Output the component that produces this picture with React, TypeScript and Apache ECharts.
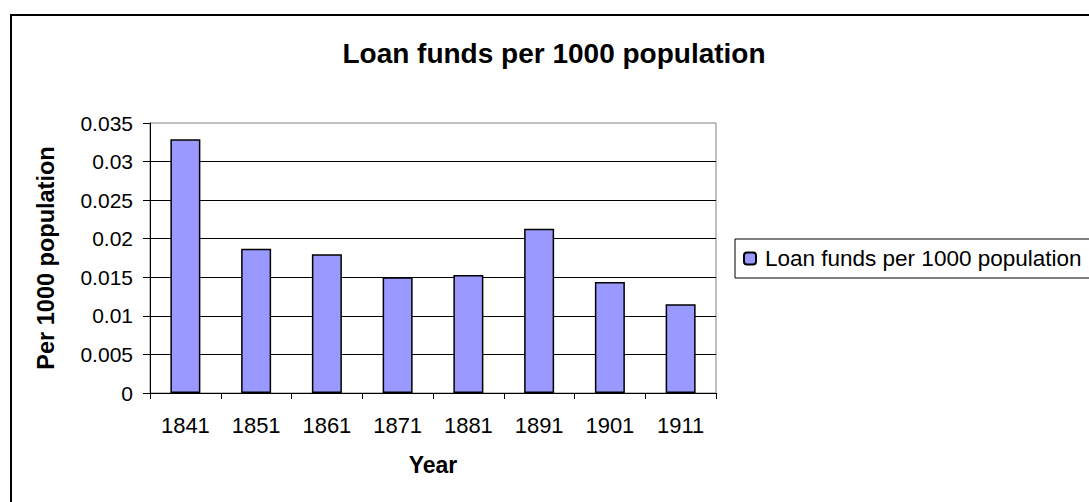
import React, { useEffect, useRef } from "react";
import * as echarts from "echarts";

const categories = ["1841", "1851", "1861", "1871", "1881", "1891", "1901", "1911"];
const values = [0.0329, 0.0187, 0.018, 0.015, 0.0153, 0.0213, 0.0144, 0.0115];
const seriesName = "Loan funds per 1000 population";
const titleText = "Loan funds per 1000 population";
const yAxisName = "Per 1000 population";
const xAxisName = "Year";

const FONT = "'Liberation Sans', Arial, sans-serif";

export default function App() {
  const ref = useRef<HTMLDivElement>(null);
  useEffect(() => {
    if (!ref.current) return;
    const chart = echarts.init(ref.current, null, { renderer: "svg" });
    chart.setOption({
      animation: false,
      backgroundColor: "#fff",
      textStyle: { fontFamily: FONT },
      title: {
        text: titleText,
        left: "center",
        top: 34,
        textStyle: { fontFamily: FONT, fontSize: 28, fontWeight: "bold", color: "#000" },
      },
      graphic: [
        {
          type: "rect",
          shape: { x: 11, y: 15, width: 1100, height: 500 },
          style: { fill: "none", stroke: "#000", lineWidth: 2 },
          silent: true,
          z: 100,
        },
      ],
      legend: {
        left: 735,
        top: 239,
        orient: "vertical",
        data: [seriesName],
        itemWidth: 12,
        itemHeight: 12,
        padding: [8, 40, 8, 8],
        borderColor: "#000",
        borderWidth: 1,
        textStyle: { fontFamily: FONT, fontSize: 22.5, color: "#000", padding: [0, 0, 0, 4] },
      },
      grid: {
        left: 150,
        top: 123,
        width: 566,
        height: 270,
        show: true,
        borderColor: "#808080",
        borderWidth: 1,
        backgroundColor: "#fff",
      },
      xAxis: {
        type: "category",
        data: categories,
        name: xAxisName,
        nameLocation: "middle",
        nameGap: 60,
        nameTextStyle: { fontFamily: FONT, fontSize: 23, fontWeight: "bold", color: "#000" },
        axisLine: { lineStyle: { color: "#000", width: 1 } },
        axisTick: { show: true, length: 6, lineStyle: { color: "#000" } },
        axisLabel: { fontFamily: FONT, fontSize: 22, color: "#000", margin: 21 },
      },
      yAxis: {
        type: "value",
        min: 0,
        max: 0.035,
        interval: 0.005,
        name: yAxisName,
        nameLocation: "middle",
        nameRotate: 90,
        nameGap: 92,
        nameTextStyle: { fontFamily: FONT, fontSize: 23.5, fontWeight: "bold", color: "#000" },
        axisLine: { show: true, lineStyle: { color: "#000", width: 1 } },
        axisTick: { show: true, length: 7, lineStyle: { color: "#000" } },
        axisLabel: { fontFamily: FONT, fontSize: 21, color: "#000", margin: 17 },
        splitLine: { show: true, showMaxLine: false, lineStyle: { color: "#000", width: 1 } },
      },
      series: [
        {
          type: "bar",
          name: seriesName,
          data: values,
          barWidth: 30,
          itemStyle: { color: "#9999FF", borderColor: "#000", borderWidth: 1.5 },
        },
      ],
    });
    return () => chart.dispose();
  }, []);
  return (
    <div style={{ position: "fixed", left: 0, top: 0, width: 1089, height: 502, overflow: "hidden", background: "#fff" }}>
      <div ref={ref} style={{ width: 1108, height: 520 }} />
    </div>
  );
}
